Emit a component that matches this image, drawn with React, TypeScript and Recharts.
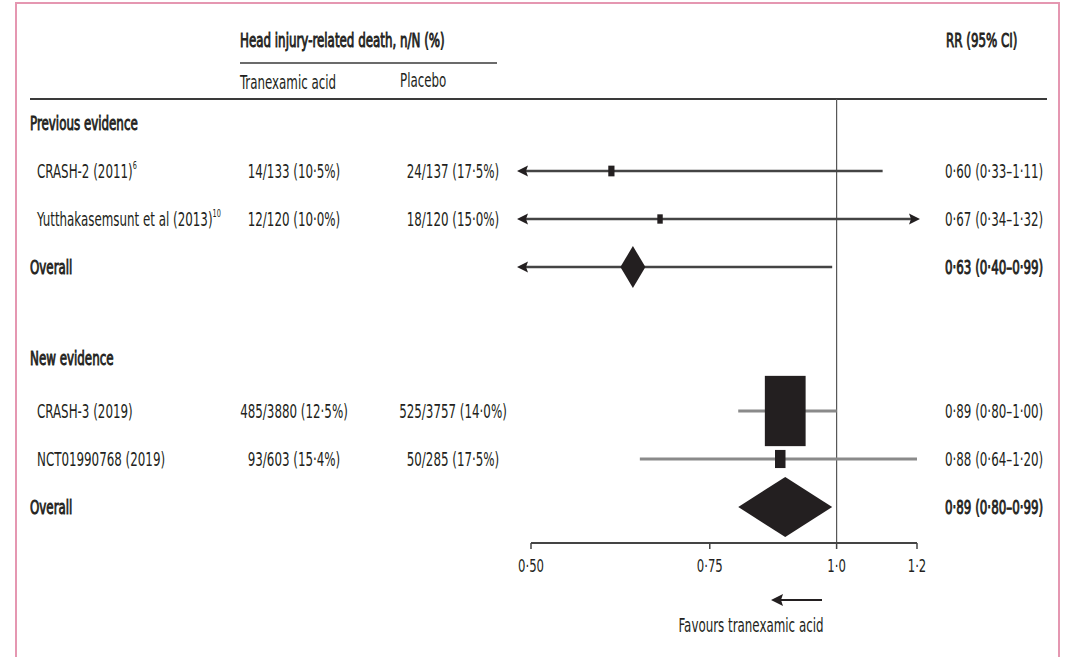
import React from 'react';
import { ScatterChart, Scatter, XAxis, YAxis, ReferenceLine } from 'recharts';

const FONT = "'Liberation Sans Narrow', 'DejaVu Sans Condensed', 'Arial Narrow', sans-serif";
const INK = '#231f20';

// one entry per table row, top to bottom ('' = spacer row)
const rowNames = [
  'Previous evidence',
  'CRASH-2 (2011)',
  'Yutthakasemsunt et al (2013)',
  'Overall',
  '',
  'New evidence',
  'CRASH-3 (2019)',
  'NCT01990768 (2019)',
  'Overall',
];
const rowKinds = ['group', 'study', 'study', 'overall', 'gap', 'group', 'study', 'study', 'overall'];
const rowGroups = ['previous', 'previous', 'previous', 'previous', '', 'new', 'new', 'new', 'new'];
const rowRefs = ['', '6', '10', '', '', '', '', '', ''];

const txaDeaths = [null, 14, 12, null, null, null, 485, 93, null];
const txaTotal = [null, 133, 120, null, null, null, 3880, 603, null];
const placeboDeaths = [null, 24, 18, null, null, null, 525, 50, null];
const placeboTotal = [null, 137, 120, null, null, null, 3757, 285, null];

const rrEst = [null, 0.6, 0.67, 0.63, null, null, 0.89, 0.88, 0.89];
const ciLow = [null, 0.33, 0.34, 0.4, null, null, 0.8, 0.64, 0.8];
const ciHigh = [null, 1.11, 1.32, 0.99, null, null, 1.0, 1.2, 0.99];
// study weight (%)
const boxWeight = [null, 2.1, 1.6, null, null, null, 90.4, 6.0, null];

const xTicks = [0.5, 0.75, 1.0, 1.2];
const xTickLabels = ['0·50', '0·75', '1·0', '1·2'];

const X_MIN = xTicks[0];
const X_MAX = xTicks[xTicks.length - 1];

const dot = (s: string) => s.replace('.', '·');
const pct = (n: number, d: number) => `${n}/${d} (${dot(((n / d) * 100).toFixed(1))}%)`;

const rows = rowNames.map((name, i) => {
  const lo = ciLow[i];
  const hi = ciHigh[i];
  return {
    i,
    name,
    kind: rowKinds[i],
    group: rowGroups[i],
    ref: rowRefs[i],
    est: rrEst[i],
    lo,
    hi,
    weight: boxWeight[i],
    txa: txaDeaths[i] != null ? pct(txaDeaths[i] as number, txaTotal[i] as number) : '',
    placebo: placeboDeaths[i] != null ? pct(placeboDeaths[i] as number, placeboTotal[i] as number) : '',
    rr:
      rrEst[i] != null
        ? `${dot((rrEst[i] as number).toFixed(2))} (${dot((lo as number).toFixed(2))}–${dot((hi as number).toFixed(2))})`
        : '',
    // pooled estimates whose CI fits on the axis are drawn as a CI-wide diamond
    spans: rowKinds[i] === 'overall' && lo != null && hi != null && lo >= X_MIN && hi <= X_MAX,
  };
});

const lineStyle: Record<string, { color: string; width: number }> = {
  previous: { color: '#444', width: 2.4 },
  new: { color: '#8a8a8a', width: 3 },
};

// condensed text: the journal face is much narrower than anything installed
const T = ({ x, y, anchor = 'start', bold = false, size = 20, sx = 0.66, dy, children }: any) => (
  <text
    transform={`translate(${x},${y}) scale(${sx},1)`}
    textAnchor={anchor}
    dy={dy}
    fontFamily={FONT}
    fontSize={size}
    fill={INK}
    stroke={bold ? INK : 'none'}
    strokeWidth={bold ? 0.9 : 0}
  >
    {children}
  </text>
);

const RowTick = (props: any) => {
  const { y, payload } = props;
  const r = rows[payload.value];
  if (!r || r.kind === 'gap') return <g />;
  const bold = r.kind !== 'study';
  // section headings sit a little above their row slot
  const yy = r.kind === 'group' && r.i > 0 ? y - 5 : y;
  return (
    <g>
      <T x={r.kind === 'study' ? 37 : 30} y={yy} dy="0.36em" bold={bold}>
        {r.name}
        {r.ref && (
          <tspan fontSize={11} dy={-9}>
            {r.ref}
          </tspan>
        )}
      </T>
      {r.txa && (
        <T x={294} y={y} dy="0.36em" anchor="middle">
          {r.txa}
        </T>
      )}
      {r.placebo && (
        <T x={453} y={y} dy="0.36em" anchor="middle">
          {r.placebo}
        </T>
      )}
      {r.rr && (
        <T x={945} y={y} dy="0.36em" bold={r.kind === 'overall'}>
          {r.rr}
        </T>
      )}
    </g>
  );
};

const XTick = (props: any) => {
  const { x, y, payload } = props;
  const label = xTickLabels[xTicks.indexOf(payload.value)] ?? String(payload.value);
  return (
    <T x={x} y={y} dy="0.78em" anchor="middle" size={18} sx={0.72}>
      {label}
    </T>
  );
};

const CiLine = ({ points, left, right, color, width }: any) => {
  if (!points || points.length < 2) return <g />;
  const a = points[0];
  const b = points[points.length - 1];
  const y = a.y;
  const x1 = left ? a.x - 6 : a.x;
  const x2 = right ? b.x - 6 : b.x;
  return (
    <g>
      <line x1={x1} y1={y} x2={x2} y2={y} stroke={color} strokeWidth={width} />
      {left && <polygon points={`${a.x - 14},${y} ${a.x - 3},${y - 5.5} ${a.x - 5},${y} ${a.x - 3},${y + 5.5}`} fill={INK} />}
      {right && <polygon points={`${b.x + 3},${y} ${b.x - 8},${y - 5.5} ${b.x - 6},${y} ${b.x - 8},${y + 5.5}`} fill={INK} />}
    </g>
  );
};

const MarkerShape = (props: any) => {
  const { cx, cy, payload } = props;
  const r = payload.row;
  if (r.kind === 'study') {
    const area = r.weight * 31.7;
    const w = Math.sqrt(area * 0.58);
    const h = w / 0.58;
    return <rect x={cx - w / 2} y={cy - h / 2} width={w} height={h} fill={INK} />;
  }
  return <polygon points={`${cx - 12.5},${cy} ${cx},${cy - 21} ${cx + 12.5},${cy} ${cx},${cy + 21}`} fill={INK} />;
};

const ciRows = rows.filter((r) => r.est != null && !r.spans);
const spanRows = rows.filter((r) => r.spans);
const markerData = ciRows.map((r) => ({ x: r.est, y: r.i, row: r }));

export default function App() {
  return (
    <div style={{ position: 'absolute', left: 0, top: 0, background: '#fff', fontFamily: FONT }}>
      <ScatterChart width={1066} height={657} margin={{ top: 99, right: 149, bottom: 84, left: 0 }}>
        <path d="M16,660 V3 H1059 V660" fill="none" stroke="#e597b1" strokeWidth={2} />
        <line x1={30} y1={99} x2={1047} y2={99} stroke="#3a3a3a" strokeWidth={2} />
        <line x1={240} y1={63} x2={497} y2={63} stroke="#3a3a3a" strokeWidth={1.6} />
        <T x={240} y={47} bold>
          Head injury-related death, n/N (%)
        </T>
        <T x={240} y={89}>Tranexamic acid</T>
        <T x={400} y={87}>Placebo</T>
        <T x={946} y={47} bold>
          RR (95% CI)
        </T>
        <T x={751} y={632} anchor="middle">
          Favours tranexamic acid
        </T>
        <line x1={780} y1={600} x2={822} y2={600} stroke={INK} strokeWidth={2} />
        <polygon points="771,600 783,594 781,600 783,606" fill={INK} />

        <ReferenceLine x={1} stroke="#555" strokeWidth={1.2} />

        <XAxis
          type="number"
          dataKey="x"
          scale="log"
          domain={[X_MIN, X_MAX]}
          ticks={xTicks}
          interval={0}
          height={30}
          tickSize={6}
          tickMargin={9}
          axisLine={{ stroke: '#444', strokeWidth: 2 }}
          tickLine={{ stroke: '#444', strokeWidth: 1.5 }}
          tick={(p: any) => <XTick {...p} />}
        />
        <YAxis
          type="number"
          dataKey="y"
          domain={[-0.5, 8.75]}
          reversed
          ticks={rows.map((r) => r.i)}
          interval={0}
          width={531}
          axisLine={false}
          tickLine={false}
          tick={(p: any) => <RowTick {...p} />}
        />

        {ciRows.map((r) => {
          const st = lineStyle[r.group];
          return (
            <Scatter
              key={`ci-${r.i}`}
              data={[
                { x: Math.max(r.lo as number, X_MIN), y: r.i },
                { x: Math.min(r.hi as number, X_MAX), y: r.i },
              ]}
              line={(p: any) => (
                <CiLine
                  points={p.points}
                  left={(r.lo as number) < X_MIN}
                  right={(r.hi as number) > X_MAX}
                  color={st.color}
                  width={st.width}
                />
              )}
              shape={() => <g />}
              isAnimationActive={false}
            />
          );
        })}

        <Scatter data={markerData} shape={MarkerShape} isAnimationActive={false} />

        {spanRows.map((r) => (
          <Scatter
            key={`pool-${r.i}`}
            data={[
              { x: r.lo, y: r.i },
              { x: r.est, y: r.i },
              { x: r.hi, y: r.i },
            ]}
            line={(p: any) => {
              const pts = p.points;
              if (!pts || pts.length < 3) return <g />;
              const y = pts[0].y;
              return (
                <polygon
                  points={`${pts[0].x},${y} ${pts[1].x},${y - 30} ${pts[2].x},${y} ${pts[1].x},${y + 30}`}
                  fill={INK}
                />
              );
            }}
            shape={() => <g />}
            isAnimationActive={false}
          />
        ))}
      </ScatterChart>
    </div>
  );
}
